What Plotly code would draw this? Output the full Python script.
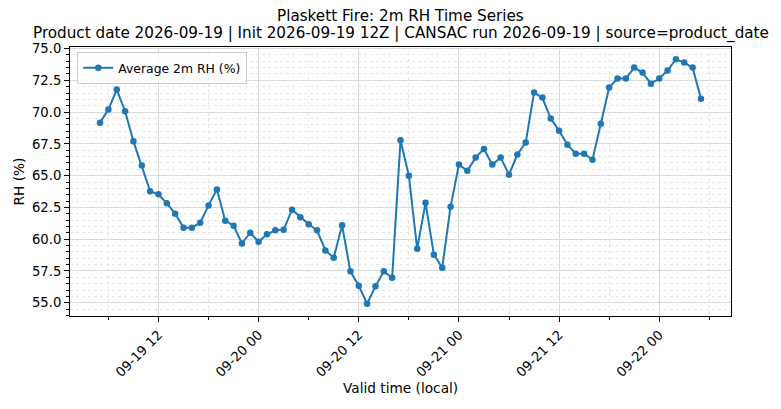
import pandas as pd
import plotly.graph_objects as go

# Hourly average 2m RH
start_time = '2026-09-19 05:00'
n_hours = 73
rh_values = [
    69.17, 70.20, 71.77, 70.07, 67.70, 65.79, 63.77, 63.53, 62.82, 62.01,
    60.91, 60.91, 61.30, 62.66, 63.92, 61.46, 61.06, 59.67, 60.51, 59.80,
    60.38, 60.70, 60.75, 62.32, 61.72, 61.17, 60.70, 59.12, 58.54, 61.09,
    57.47, 56.34, 54.92, 56.29, 57.47, 56.97, 67.78, 65.00, 59.25, 62.87,
    58.78, 57.76, 62.56, 65.87, 65.39, 66.42, 67.10, 65.87, 66.42, 65.08,
    66.66, 67.60, 71.54, 71.14, 69.49, 68.54, 67.44, 66.73, 66.73, 66.26,
    69.09, 71.93, 72.64, 72.64, 73.50, 73.11, 72.24, 72.64, 73.27, 74.16,
    73.90, 73.50, 71.06,
]
series_name = 'Average 2m RH (%)'
title_lines = [
    'Plaskett Fire: 2m RH Time Series',
    'Product date 2026-09-19 | Init 2026-09-19 12Z | CANSAC run 2026-09-19 | source=product_date',
]
x_title = 'Valid time (local)'
y_title = 'RH (%)'

times = pd.date_range(start=start_time, periods=n_hours, freq='h')

# matplotlib-like 5% padding around the data
pad = (times[-1] - times[0]) * 0.05
x_range = [times[0] - pad, times[-1] + pad]
y_pad = (max(rh_values) - min(rh_values)) * 0.05
y_range = [min(rh_values) - y_pad, max(rh_values) + y_pad]

font = 'DejaVu Sans, sans-serif'
HOUR_MS = 3600 * 1000

# plot area in pixels (matches the reference)
W, H = 781, 409
L, R, T, B = 70, 50, 47, 93
plot_h = H - T - B
plot_w = W - L - R

fig = go.Figure(go.Scatter(
    x=times, y=rh_values, mode='lines+markers', name=series_name,
    line=dict(color='#1f77b4', width=2),
    marker=dict(color='#1f77b4', size=6.5),
))

# titles as annotations so they sit exactly where the reference has them
annotations = [
    dict(text=title_lines[0], x=0.5, y=1 + (T - 16) / plot_h, font=dict(size=15.2)),
    dict(text=title_lines[1], x=0.5, y=1 + (T - 34) / plot_h, font=dict(size=15.2)),
    dict(text=x_title, x=0.5, y=-(388 - (H - B)) / plot_h, font=dict(size=13.7)),
    dict(text=y_title, x=-(L - 18) / plot_w, y=0.5, textangle=-90, font=dict(size=13.7)),
]
for a in annotations:
    a.update(xref='paper', yref='paper', xanchor='center', yanchor='middle', showarrow=False)

fig.update_layout(
    width=W, height=H,
    margin=dict(l=L, r=R, t=T, b=B),
    paper_bgcolor='white', plot_bgcolor='white',
    font=dict(family=font, color='black', size=13),
    annotations=annotations,
    showlegend=True,
    legend=dict(x=0.011, y=0.981, xanchor='left', yanchor='top',
                bgcolor='rgba(255,255,255,0.8)', bordercolor='#cccccc', borderwidth=1,
                font=dict(size=12.4, family=font)),
)

fig.update_xaxes(
    range=x_range, type='date', automargin=False,
    tick0='2026-09-19 00:00', dtick=12 * HOUR_MS, tickformat='%m-%d %H',
    tickangle=-45, ticks='outside', ticklen=5, tickwidth=1, tickcolor='black',
    tickfont=dict(size=13.2),
    showline=True, linecolor='black', linewidth=1, mirror=True,
    showgrid=True, gridcolor='#d9d9d9', gridwidth=1, zeroline=False,
    minor=dict(tick0='2026-09-19 00:00', dtick=6 * HOUR_MS, ticks='outside', ticklen=3,
               tickcolor='black', showgrid=True, gridcolor='#e6e6e6', griddash='dot'),
)

fig.update_yaxes(
    range=y_range, tick0=0, dtick=2.5, tickformat='.1f', automargin=False,
    ticks='outside', ticklen=5, tickwidth=1, tickcolor='black',
    tickfont=dict(size=13.2),
    showline=True, linecolor='black', linewidth=1, mirror=True,
    showgrid=True, gridcolor='#d9d9d9', gridwidth=1, zeroline=False,
    minor=dict(dtick=0.5, ticks='outside', ticklen=3, tickcolor='black',
               showgrid=True, gridcolor='#e6e6e6', griddash='dot'),
)

# drop the browser's default 8px body margin so the figure sits at the page corner
fig.write_html('out.html', config={'displayModeBar': False},
               post_script="document.body.style.margin='0';")
